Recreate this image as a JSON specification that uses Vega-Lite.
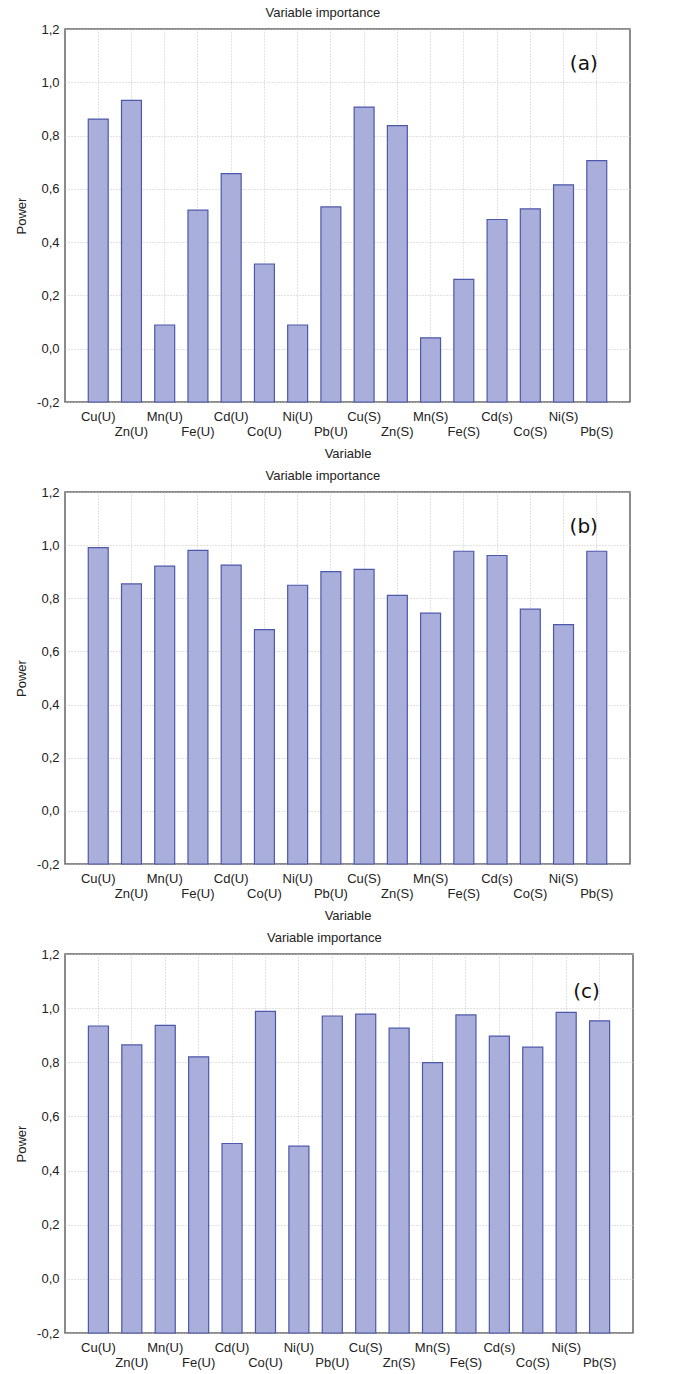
{
  "$schema": "https://vega.github.io/schema/vega-lite/v6.json",
  "padding": {"left": 14, "top": 6, "right": 5, "bottom": 0},
  "spacing": 8,
  "data": {"values": [
    {"panel": "a", "variable": "Cu(U)", "power": 0.862},
    {"panel": "a", "variable": "Zn(U)", "power": 0.932},
    {"panel": "a", "variable": "Mn(U)", "power": 0.089},
    {"panel": "a", "variable": "Fe(U)", "power": 0.52},
    {"panel": "a", "variable": "Cd(U)", "power": 0.657},
    {"panel": "a", "variable": "Co(U)", "power": 0.318},
    {"panel": "a", "variable": "Ni(U)", "power": 0.089},
    {"panel": "a", "variable": "Pb(U)", "power": 0.532},
    {"panel": "a", "variable": "Cu(S)", "power": 0.907},
    {"panel": "a", "variable": "Zn(S)", "power": 0.837},
    {"panel": "a", "variable": "Mn(S)", "power": 0.041},
    {"panel": "a", "variable": "Fe(S)", "power": 0.26},
    {"panel": "a", "variable": "Cd(s)", "power": 0.485},
    {"panel": "a", "variable": "Co(S)", "power": 0.525},
    {"panel": "a", "variable": "Ni(S)", "power": 0.615},
    {"panel": "a", "variable": "Pb(S)", "power": 0.706},
    {"panel": "b", "variable": "Cu(U)", "power": 0.991},
    {"panel": "b", "variable": "Zn(U)", "power": 0.854},
    {"panel": "b", "variable": "Mn(U)", "power": 0.921},
    {"panel": "b", "variable": "Fe(U)", "power": 0.98},
    {"panel": "b", "variable": "Cd(U)", "power": 0.925},
    {"panel": "b", "variable": "Co(U)", "power": 0.682},
    {"panel": "b", "variable": "Ni(U)", "power": 0.849},
    {"panel": "b", "variable": "Pb(U)", "power": 0.9},
    {"panel": "b", "variable": "Cu(S)", "power": 0.909},
    {"panel": "b", "variable": "Zn(S)", "power": 0.811},
    {"panel": "b", "variable": "Mn(S)", "power": 0.744},
    {"panel": "b", "variable": "Fe(S)", "power": 0.977},
    {"panel": "b", "variable": "Cd(s)", "power": 0.961},
    {"panel": "b", "variable": "Co(S)", "power": 0.759},
    {"panel": "b", "variable": "Ni(S)", "power": 0.701},
    {"panel": "b", "variable": "Pb(S)", "power": 0.977},
    {"panel": "c", "variable": "Cu(U)", "power": 0.934},
    {"panel": "c", "variable": "Zn(U)", "power": 0.864},
    {"panel": "c", "variable": "Mn(U)", "power": 0.936},
    {"panel": "c", "variable": "Fe(U)", "power": 0.82},
    {"panel": "c", "variable": "Cd(U)", "power": 0.5},
    {"panel": "c", "variable": "Co(U)", "power": 0.988},
    {"panel": "c", "variable": "Ni(U)", "power": 0.49},
    {"panel": "c", "variable": "Pb(U)", "power": 0.971},
    {"panel": "c", "variable": "Cu(S)", "power": 0.978},
    {"panel": "c", "variable": "Zn(S)", "power": 0.926},
    {"panel": "c", "variable": "Mn(S)", "power": 0.799},
    {"panel": "c", "variable": "Fe(S)", "power": 0.975},
    {"panel": "c", "variable": "Cd(s)", "power": 0.897},
    {"panel": "c", "variable": "Co(S)", "power": 0.856},
    {"panel": "c", "variable": "Ni(S)", "power": 0.984},
    {"panel": "c", "variable": "Pb(S)", "power": 0.953}
  ]},
  "vconcat": [
    {
      "title": "Variable importance",
      "width": 565, "height": 373,
      "layer": [
        {
          "transform": [{"filter": "datum.panel == 'a'"}],
          "mark": {"type": "bar", "fill": "#a9aedb", "stroke": "#4d58aa", "strokeWidth": 1.2},
          "encoding": {
            "x": {"field": "variable", "type": "nominal", "sort": null,
                  "scale": {"paddingInner": 0.4, "paddingOuter": 0.7},
                  "axis": {"title": "Variable"}},
            "y": {"field": "power", "type": "quantitative",
                  "scale": {"domain": [-0.2, 1.2], "nice": false, "zero": false},
                  "axis": {"title": "Power", "values": [-0.2, 0, 0.2, 0.4, 0.6, 0.8, 1.0, 1.2]}},
            "y2": {"datum": -0.2}
          }
        },
        {
          "data": {"values": [{"lab": "(a)"}]},
          "mark": {"type": "text", "font": "DejaVu Sans", "fontSize": 20, "color": "#111", "dx": -13, "baseline": "middle"},
          "encoding": {
            "x": {"datum": "Pb(S)", "type": "nominal"},
            "y": {"datum": 1.07, "type": "quantitative"},
            "text": {"field": "lab"}
          }
        }
      ]
    },
    {
      "title": "Variable importance",
      "width": 565, "height": 372,
      "layer": [
        {
          "transform": [{"filter": "datum.panel == 'b'"}],
          "mark": {"type": "bar", "fill": "#a9aedb", "stroke": "#4d58aa", "strokeWidth": 1.2},
          "encoding": {
            "x": {"field": "variable", "type": "nominal", "sort": null,
                  "scale": {"paddingInner": 0.4, "paddingOuter": 0.7},
                  "axis": {"title": "Variable"}},
            "y": {"field": "power", "type": "quantitative",
                  "scale": {"domain": [-0.2, 1.2], "nice": false, "zero": false},
                  "axis": {"title": "Power", "values": [-0.2, 0, 0.2, 0.4, 0.6, 0.8, 1.0, 1.2]}},
            "y2": {"datum": -0.2}
          }
        },
        {
          "data": {"values": [{"lab": "(b)"}]},
          "mark": {"type": "text", "font": "DejaVu Sans", "fontSize": 20, "color": "#111", "dx": -13, "baseline": "middle"},
          "encoding": {
            "x": {"datum": "Pb(S)", "type": "nominal"},
            "y": {"datum": 1.07, "type": "quantitative"},
            "text": {"field": "lab"}
          }
        }
      ]
    },
    {
      "title": "Variable importance",
      "width": 568, "height": 379,
      "layer": [
        {
          "transform": [{"filter": "datum.panel == 'c'"}],
          "mark": {"type": "bar", "fill": "#a9aedb", "stroke": "#4d58aa", "strokeWidth": 1.2},
          "encoding": {
            "x": {"field": "variable", "type": "nominal", "sort": null,
                  "scale": {"paddingInner": 0.4, "paddingOuter": 0.7},
                  "axis": {"title": null}},
            "y": {"field": "power", "type": "quantitative",
                  "scale": {"domain": [-0.2, 1.2], "nice": false, "zero": false},
                  "axis": {"title": "Power", "values": [-0.2, 0, 0.2, 0.4, 0.6, 0.8, 1.0, 1.2]}},
            "y2": {"datum": -0.2}
          }
        },
        {
          "data": {"values": [{"lab": "(c)"}]},
          "mark": {"type": "text", "font": "DejaVu Sans", "fontSize": 20, "color": "#111", "dx": -13, "baseline": "middle"},
          "encoding": {
            "x": {"datum": "Pb(S)", "type": "nominal"},
            "y": {"datum": 1.06, "type": "quantitative"},
            "text": {"field": "lab"}
          }
        }
      ]
    }
  ],
  "config": {
    "font": "Liberation Sans",
    "view": {"stroke": "#666", "strokeWidth": 1.5},
    "title": {"fontSize": 13, "fontWeight": "normal", "color": "#222", "frame": "bounds", "offset": 3, "font": "Liberation Sans"},
    "axisX": {
      "bandPosition": 0.5, "grid": true, "gridColor": "#c4c4c4", "gridDash": [1, 2], "gridWidth": 1,
      "ticks": false, "domain": false, "labelAngle": 0, "labelFontSize": 13, "labelColor": "#222",
      "labelPadding": 8, "labelLineHeight": 15, "labelOverlap": false, "labelBaseline": "top",
      "labelExpr": "indexof(['Zn(U)','Fe(U)','Co(U)','Pb(U)','Zn(S)','Fe(S)','Co(S)','Pb(S)'], datum.value) >= 0 ? ['', datum.value] : datum.value",
      "titleFontSize": 13, "titleFontWeight": "normal", "titleColor": "#222", "titlePadding": 9
    },
    "axisY": {
      "grid": true, "gridColor": "#c4c4c4", "gridDash": [1, 2], "gridWidth": 1,
      "ticks": false, "domain": false, "labelFontSize": 13, "labelColor": "#222", "labelPadding": 6,
      "labelExpr": "replace(replace(format(datum.value, '.1f'), '.', ','), '−', '-')",
      "titleFontSize": 13, "titleFontWeight": "normal", "titleColor": "#222", "titlePadding": 8
    }
  }
}
